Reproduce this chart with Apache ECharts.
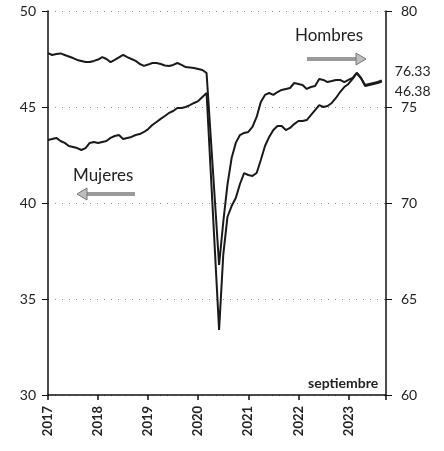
<!DOCTYPE html>
<html>
<head>
<meta charset="utf-8">
<script src="https://cdn.jsdelivr.net/npm/echarts@6/dist/echarts.min.js"></script>
<style>
  html, body { margin: 0; padding: 0; background: #fff; }
  #chart { width: 444px; height: 451px; }
</style>
</head>
<body>
<div id="chart"></div>
<script>
// etiquetas del eje (enero de cada año)
let years = ['2017', '2018', '2019', '2020', '2021', '2022', '2023'];

// meses ene-2017 .. sep-2023
let months = [];
years.forEach(function (y) {
    for (let k = 1; k <= 12; k++) {
        if (y === '2023' && k > 9) break;
        months.push(y + '-' + (k < 10 ? '0' + k : k));
    }
});

// tasa de participación, hombres (eje derecho); abr-may 2020 sin dato
let hombres = [
    77.81, 77.71, 77.76, 77.79, 77.71, 77.63, 77.55, 77.45, 77.40, 77.34, 77.34, 77.40,
    77.47, 77.60, 77.50, 77.34, 77.45, 77.58, 77.71, 77.60, 77.50, 77.40, 77.24, 77.14,
    77.21, 77.29, 77.29, 77.24, 77.16, 77.14, 77.19, 77.29, 77.19, 77.08, 77.06, 77.03,
    76.98, 76.93, 76.77, null, null, 66.77, 69.00, 70.94, 72.34, 73.13, 73.54, 73.65,
    73.70, 73.96, 74.48, 75.26, 75.63, 75.73, 75.63, 75.78, 75.89, 75.94, 75.99, 76.25,
    76.20, 76.15, 75.94, 76.04, 76.09, 76.46, 76.41, 76.30, 76.35, 76.41, 76.41, 76.30,
    76.41, 76.51, 76.77, 76.51, 76.09, 76.15, 76.20, 76.25, 76.33
];

// tasa de participación, mujeres (eje izquierdo)
let mujeres = [
    43.28, 43.33, 43.39, 43.23, 43.13, 42.97, 42.92, 42.86, 42.76, 42.86, 43.13, 43.18,
    43.13, 43.18, 43.23, 43.39, 43.49, 43.54, 43.33, 43.39, 43.44, 43.54, 43.59, 43.70,
    43.85, 44.06, 44.22, 44.38, 44.53, 44.69, 44.79, 44.95, 44.95, 45.00, 45.10, 45.21,
    45.31, 45.52, 45.73, null, null, 33.39, 37.30, 39.27, 39.84, 40.26, 40.99, 41.56,
    41.46, 41.41, 41.56, 42.24, 42.97, 43.44, 43.80, 44.01, 44.01, 43.80, 43.91, 44.11,
    44.27, 44.27, 44.32, 44.58, 44.84, 45.10, 45.00, 45.05, 45.21, 45.47, 45.78, 46.04,
    46.20, 46.46, 46.77, 46.51, 46.15, 46.20, 46.25, 46.30, 46.38
];

const font = 'Lato';
const toPairs = arr => months.map((m, i) => [i, arr[i]]);

// flecha gris (texto de anotación)
const arrow = (x1, x2, y) => {
    let dir = x2 > x1 ? 1 : -1;
    return [{
        type: 'line',
        shape: { x1: x1, y1: y, x2: x2 - dir * 8, y2: y },
        style: { stroke: '#9a9a9a', lineWidth: 4 }
    }, {
        type: 'polygon',
        shape: { points: [[x2, y], [x2 - dir * 10, y - 6], [x2 - dir * 10, y + 6]] },
        style: { fill: '#bdbdbd', stroke: '#777', lineWidth: 1 }
    }];
};

let option = {
    backgroundColor: '#fff',
    animation: false,
    grid: { left: 48, right: 58, top: 11, bottom: 56 },
    xAxis: {
        type: 'value',
        min: 0,
        max: 81,
        interval: 12,
        axisLine: { lineStyle: { color: '#111', width: 1.5 } },
        axisTick: { show: true, length: 5, lineStyle: { color: '#111', width: 1.5 } },
        axisLabel: {
            rotate: 90,
            fontFamily: font,
            fontSize: 13,
            fontWeight: 'bold',
            color: '#222',
            margin: 11,
            formatter: v => (v % 12 === 0 && years[v / 12]) ? years[v / 12] : ''
        },
        splitLine: { show: false }
    },
    yAxis: [{
        type: 'value',
        min: 30,
        max: 50,
        interval: 5,
        axisLine: { show: true, lineStyle: { color: '#111', width: 1.5 } },
        axisTick: { show: true, length: 6, lineStyle: { color: '#111' } },
        axisLabel: { fontFamily: font, fontSize: 14, color: '#222', margin: 12 },
        splitLine: { show: true, lineStyle: { color: '#888', type: [1, 6], width: 1 } }
    }, {
        type: 'value',
        position: 'right',
        min: 60,
        max: 80,
        interval: 5,
        axisLine: { show: true, lineStyle: { color: '#111', width: 1.5 } },
        axisTick: { show: true, length: 6, lineStyle: { color: '#111' } },
        axisLabel: { fontFamily: font, fontSize: 14, color: '#222', margin: 15 },
        splitLine: { show: false }
    }],
    series: [{
        name: 'Hombres',
        type: 'line',
        yAxisIndex: 1,
        data: toPairs(hombres),
        connectNulls: true,
        showSymbol: false,
        lineStyle: { color: '#1a1a1a', width: 2 },
        endLabel: {
            show: true,
            formatter: p => p.value[1].toFixed(2),
            fontFamily: font,
            fontSize: 14,
            color: '#222',
            distance: 0,
            offset: [13, -10]
        }
    }, {
        name: 'Mujeres',
        type: 'line',
        yAxisIndex: 0,
        data: toPairs(mujeres),
        connectNulls: true,
        showSymbol: false,
        lineStyle: { color: '#1a1a1a', width: 2 },
        endLabel: {
            show: true,
            formatter: p => p.value[1].toFixed(2),
            fontFamily: font,
            fontSize: 14,
            color: '#222',
            distance: 0,
            offset: [13, 11]
        }
    }],
    graphic: [{
        type: 'text',
        left: 295,
        top: 27,
        style: { text: 'Hombres', font: '17px ' + font, fill: '#222' }
    }, {
        type: 'text',
        left: 73,
        top: 167,
        style: { text: 'Mujeres', font: '17px ' + font, fill: '#222' }
    }, {
        type: 'text',
        left: 308,
        top: 376,
        style: { text: 'septiembre', font: 'bold 14px ' + font, fill: '#222' }
    }].concat(arrow(307, 366, 59), arrow(135, 77, 194))
};

var myChart = echarts.init(document.getElementById('chart'));
myChart.setOption(option);
window.addEventListener('resize', function () {
    myChart.resize();
});
</script>
</body>
</html>
